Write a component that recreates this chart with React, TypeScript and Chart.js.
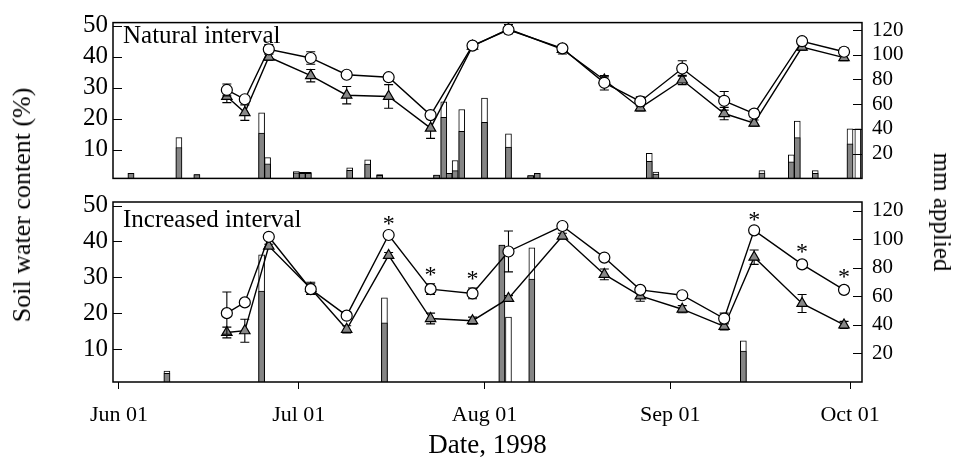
import React, { useEffect, useRef } from "react";
import { Chart, registerables } from "chart.js";
Chart.register(...registerables);

const FONT = "'Liberation Serif', 'Times New Roman', serif";

// Sampling dates, days since Jun 01 1998
const sampleDays = [18, 21, 25, 32, 38, 45, 52, 59, 65, 74, 81, 87, 94, 101, 106, 114, 121];

// Natural interval panel
const natCircle = [29.3, 26.3, 42.4, 39.6, 34.2, 33.4, 21.2, 43.6, 48.7, 42.7, 31.6, 25.6, 36.2, 25.8, 21.7, 45.0, 41.6];
const natCircleErr = [1.9, 0.8, 1.5, 2.0, 1.0, 0.8, 1.0, 1.0, 1.0, 1.2, 2.3, 1.5, 2.5, 3.0, 1.2, 1.2, 1.2];
const natTri = [27.2, 22.0, 39.9, 33.9, 27.6, 27.2, 17.0, 43.4, 48.9, 42.4, 32.5, 23.5, 32.5, 21.7, 18.6, 43.1, 39.7];
const natTriErr = [2.0, 2.5, 1.0, 2.0, 2.8, 3.8, 3.3, 1.0, 1.5, 1.5, 1.0, 1.0, 1.5, 2.0, 1.0, 1.0, 1.0];

// Increased interval panel
const incCircle = [20.0, 23.0, 41.3, 26.7, 19.3, 41.8, 26.7, 25.5, 37.2, 44.3, 35.5, 26.5, 25.0, 18.5, 43.1, 33.6, 26.5];
const incCircleErr = [5.9, 0.5, 0.5, 1.5, 1.0, 0.5, 1.5, 1.5, 5.7, 1.0, 0.5, 0.8, 0.5, 1.5, 0.5, 1.0, 1.0];
const incTri = [14.6, 15.1, 38.7, 26.9, 15.5, 36.1, 18.5, 17.9, 24.1, 41.5, 30.8, 24.8, 21.1, 16.3, 35.6, 22.7, 16.7];
const incTriErr = [1.5, 3.2, 0.5, 1.7, 1.0, 0.8, 1.5, 1.0, 0.8, 0.8, 1.5, 1.5, 1.0, 1.0, 2.0, 2.5, 1.0];
const sigIndex = [5, 6, 7, 14, 15, 16];

// Water applied (mm): gray part and white part stacked on top
const natBarDays = [2, 10, 13, 23.8, 24.8, 29.6, 30.6, 31.6, 38.5, 41.5, 43.5, 53, 54.2, 55.1, 56.1, 57.2, 61, 65, 68.7, 69.8, 88.5, 89.6, 107.3, 112.2, 113.2, 116.2, 122, 123.3];
const natBarGray = [4, 25, 3, 36.6, 11.7, 4.5, 4, 4, 6.5, 11.5, 2.5, 2.6, 49.4, 4, 6.3, 38, 45.3, 25.4, 2.2, 4.2, 13.8, 3.5, 4.4, 13.3, 33, 4, 28, 0];
const natBarWhite = [0, 8, 0, 16.4, 5.1, 1, 1, 1, 2, 3.5, 0.5, 0, 12.6, 0, 8.2, 17.7, 19.7, 10.6, 0, 0, 6.5, 1.6, 1.9, 5.7, 13.4, 2.3, 12, 40];

const incBarDays = [8, 23.8, 44.3, 63.9, 65, 68.9, 104.2];
const incBarGray = [6, 63.6, 41.5, 95.8, 0, 72, 21.7];
const incBarWhite = [1.7, 25.4, 17.5, 0, 45.5, 22, 7.2];

const dateTickDays = [0, 30, 61, 92, 122];
const dateTickLabels = ["Jun 01", "Jul 01", "Aug 01", "Sep 01", "Oct 01"];
const leftTicks = [10, 20, 30, 40, 50];
const rightTicks = [20, 40, 60, 80, 100, 120];

type Panel = {
  circle: number[]; circleErr: number[]; tri: number[]; triErr: number[];
  barDays: number[]; barGray: number[]; barWhite: number[];
  label: string; labelOffset: number; showX: boolean; asterisks: number[];
  padTop: number; padBottom: number;
};

function makeChart(canvas: HTMLCanvasElement, p: Panel) {
  const pts = (vals: number[]) => sampleDays.map((d, i) => ({ x: d, y: vals[i] }));
  const grayData = p.barDays.map((d, i) => ({ x: d, y: p.barGray[i] })).filter((o) => o.y > 0);
  const totalData = p.barDays.map((d, i) => ({ x: d, y: p.barGray[i] + p.barWhite[i] }));

  const lineCommon = {
    type: "line", yAxisID: "y", borderColor: "#000", borderWidth: 1.4, tension: 0, fill: false,
    pointBorderColor: "#000", pointBorderWidth: 1.2,
  };
  const barCommon = {
    type: "bar", yAxisID: "y1", borderColor: "#000", borderWidth: 1, barThickness: 6,
    grouped: false, borderSkipped: "start",
  };
  const datasets: any[] = [
    { ...lineCommon, data: pts(p.circle), errors: p.circleErr, order: 0, pointStyle: "circle", pointRadius: 5.5, pointBackgroundColor: "#fff" },
    { ...lineCommon, data: pts(p.tri), errors: p.triErr, order: 1, pointStyle: "triangle", pointRadius: 6, pointBackgroundColor: "#888888" },
    { ...barCommon, data: grayData, order: 2, backgroundColor: "#858585" },
    { ...barCommon, data: totalData, order: 3, backgroundColor: "#fff" },
  ];

  const panelPlugin = {
    id: "panel",
    beforeDatasetDraw(chart: any, args: any) {
      const ds = chart.data.datasets[args.index];
      if (!ds.errors) return;
      const meta = args.meta;
      const ys = chart.scales.y;
      const ctx = chart.ctx;
      ctx.save();
      ctx.strokeStyle = "#000";
      ctx.lineWidth = 1.1;
      ds.data.forEach((pt: any, i: number) => {
        const e = ds.errors[i];
        if (!e) return;
        const x = meta.data[i].x;
        const y1 = ys.getPixelForValue(pt.y - e);
        const y2 = ys.getPixelForValue(pt.y + e);
        ctx.beginPath();
        ctx.moveTo(x, y1); ctx.lineTo(x, y2);
        ctx.moveTo(x - 4.5, y1); ctx.lineTo(x + 4.5, y1);
        ctx.moveTo(x - 4.5, y2); ctx.lineTo(x + 4.5, y2);
        ctx.stroke();
      });
      ctx.restore();
    },
    afterDraw(chart: any) {
      const { ctx, chartArea: a } = chart;
      ctx.save();
      ctx.strokeStyle = "#000";
      ctx.lineWidth = 1.5;
      ctx.strokeRect(a.left, a.top, a.right - a.left, a.bottom - a.top);
      ctx.lineWidth = 1;
      const yl = chart.scales.y;
      const yr = chart.scales.y1;
      ctx.beginPath();
      leftTicks.forEach((v) => {
        const py = Math.round(yl.getPixelForValue(v)) + 0.5;
        ctx.moveTo(a.left, py); ctx.lineTo(a.left + 9, py);
      });
      rightTicks.forEach((v) => {
        const py = Math.round(yr.getPixelForValue(v)) + 0.5;
        ctx.moveTo(a.right - 9, py); ctx.lineTo(a.right, py);
      });
      ctx.stroke();
      ctx.fillStyle = "#000";
      ctx.font = `25px ${FONT}`;
      ctx.textAlign = "left";
      ctx.textBaseline = "alphabetic";
      ctx.fillText(p.label, a.left + 10, a.top + p.labelOffset);
      // significance asterisks
      const meta = chart.getDatasetMeta(0);
      ctx.font = `24px ${FONT}`;
      ctx.textAlign = "center";
      p.asterisks.forEach((i) => {
        const x = meta.data[i].x;
        const top = yl.getPixelForValue(p.circle[i] + p.circleErr[i]);
        ctx.fillText("*", x, top - 2);
      });
      ctx.restore();
    },
  };

  return new Chart(canvas, {
    type: "bar",
    data: { datasets },
    plugins: [panelPlugin],
    options: {
      animation: false,
      responsive: false,
      maintainAspectRatio: false,
      devicePixelRatio: 1,
      layout: { padding: { top: p.padTop, bottom: p.padBottom, left: 0, right: 0 } },
      plugins: { legend: { display: false }, tooltip: { enabled: false } },
      scales: {
        x: {
          type: "linear", min: -1, max: 124, display: p.showX, offset: false,
          afterBuildTicks: (s: any) => { s.ticks = dateTickDays.map((v) => ({ value: v })); },
          afterFit: (s: any) => { if (p.showX) s.height = 85; },
          ticks: {
            callback: (v: any) => dateTickLabels[dateTickDays.indexOf(Number(v))] ?? "",
            font: { family: FONT, size: 22 }, color: "#000", padding: 13, maxRotation: 0, autoSkip: false,
          },
          grid: { offset: false, drawOnChartArea: false, drawTicks: true, tickLength: 7, color: "#000", lineWidth: 1 },
          border: { display: false },
          title: { display: true, text: "Date, 1998", font: { family: FONT, size: 27 }, color: "#000", padding: { top: 4, bottom: 5 } },
        },
        y: {
          position: "left", min: 0.8, max: 51,
          afterBuildTicks: (s: any) => { s.ticks = leftTicks.map((v) => ({ value: v })); },
          afterFit: (s: any) => { s.width = 113; },
          ticks: { font: { family: FONT, size: 25 }, color: "#000", padding: 5, autoSkip: false },
          grid: { display: false, drawTicks: false },
          border: { display: false },
        },
        y1: {
          position: "right", min: 0, max: 126,
          afterBuildTicks: (s: any) => { s.ticks = rightTicks.map((v) => ({ value: v })); },
          afterFit: (s: any) => { s.width = 95; },
          ticks: { font: { family: FONT, size: 21 }, color: "#000", padding: 10, autoSkip: false },
          grid: { display: false, drawTicks: false },
          border: { display: false },
        },
      },
    } as any,
  } as any);
}

export default function App() {
  const topRef = useRef<HTMLCanvasElement>(null);
  const botRef = useRef<HTMLCanvasElement>(null);

  useEffect(() => {
    const c1 = makeChart(topRef.current!, {
      circle: natCircle, circleErr: natCircleErr, tri: natTri, triErr: natTriErr,
      barDays: natBarDays, barGray: natBarGray, barWhite: natBarWhite,
      label: "Natural interval", labelOffset: 20, showX: false, asterisks: [],
      padTop: 18, padBottom: 1,
    });
    const c2 = makeChart(botRef.current!, {
      circle: incCircle, circleErr: incCircleErr, tri: incTri, triErr: incTriErr,
      barDays: incBarDays, barGray: incBarGray, barWhite: incBarWhite,
      label: "Increased interval", labelOffset: 25, showX: true, asterisks: sigIndex,
      padTop: 32, padBottom: 0,
    });
    return () => { c1.destroy(); c2.destroy(); };
  }, []);

  return (
    <div style={{ position: "absolute", left: 0, top: 0, width: 957, height: 467, background: "#fff", overflow: "hidden" }}>
      <canvas ref={topRef} width={957} height={201} style={{ position: "absolute", left: 0, top: 0 }} />
      <canvas ref={botRef} width={957} height={297} style={{ position: "absolute", left: 0, top: 170 }} />
      <div style={{
        position: "absolute", left: 22, top: 205, transform: "translate(-50%, -50%) rotate(-90deg)",
        whiteSpace: "nowrap", fontFamily: FONT, fontSize: 26, color: "#000",
      }}>Soil water content (%)</div>
      <div style={{
        position: "absolute", left: 942, top: 212, transform: "translate(-50%, -50%) rotate(90deg)",
        whiteSpace: "nowrap", fontFamily: FONT, fontSize: 25, color: "#000",
      }}>mm applied</div>
    </div>
  );
}
